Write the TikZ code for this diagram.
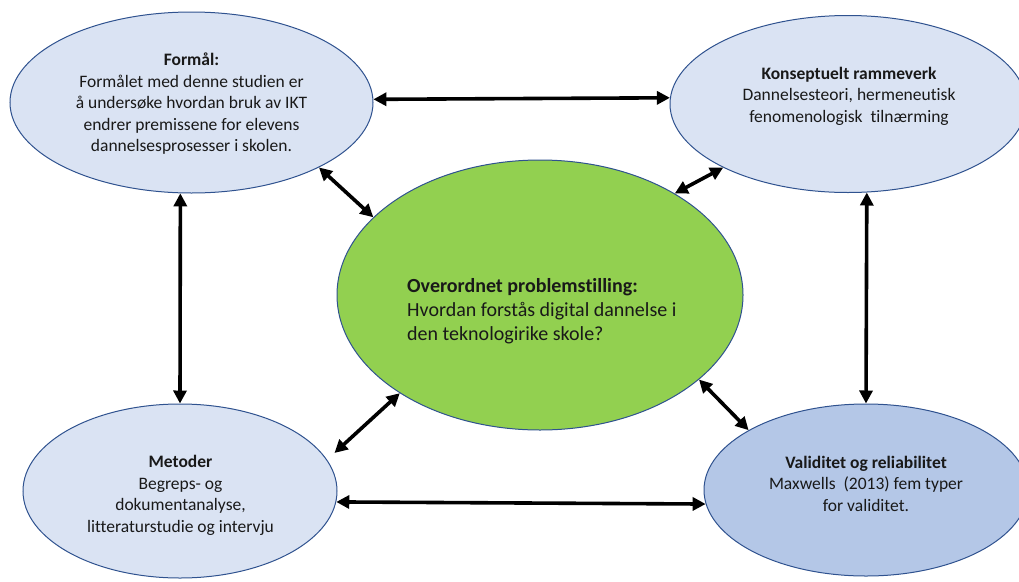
\documentclass[tikz,border=0pt]{standalone}
\usepackage{fontspec}
\setmainfont{Carlito}[Ligatures=NoCommon]
\usetikzlibrary{shapes.geometric,arrows.meta}
\definecolor{lb}{HTML}{DAE3F3}
\definecolor{mb}{HTML}{B4C7E7}
\definecolor{gr}{HTML}{92D050}
\definecolor{bd}{HTML}{2F528F}
\begin{document}
\begin{tikzpicture}[x=1pt,y=-1pt,
  ell/.style={ellipse, draw=bd, line width=1pt, inner sep=0pt},
  txt/.style={font=\fontsize{17.5}{21.5}\selectfont, align=center, inner sep=0pt, anchor=base, text=black!90},
  mtxt/.style={font=\fontsize{20}{24}\selectfont, align=left, inner sep=0pt, anchor=base west, text=black!90},
  arr/.style={{Triangle[length=13pt,width=13pt]}-{Triangle[length=13pt,width=13pt]}, line width=3.6pt, black}
]
\useasboundingbox (0,0) rectangle (1019,581);
\clip (0,0) rectangle (1019,581);
% ellipses
\node[ell, fill=lb, minimum width=363pt, minimum height=181pt] (tl) at (191.5,102.5) {};
\node[ell, fill=lb, minimum width=356pt, minimum height=177pt] (tr) at (848,104) {};
\node[ell, fill=gr, minimum width=406pt, minimum height=270pt] (mid) at (540,295) {};
\node[ell, fill=lb, minimum width=314pt, minimum height=174pt] (bl) at (180,491) {};
\node[ell, fill=mb, minimum width=324pt, minimum height=172pt] (br) at (866,490) {};
% texts (anchor = baseline of the last line)
\node[txt] (tltxt) at (191.5,151.7) {\textbf{Formål:}\\Formålet med denne studien er\\å undersøke hvordan bruk av IKT\\endrer premissene for elevens\\dannelsesprosesser i skolen.};
\node[txt] (trtxt) at (849,122) {\textbf{Konseptuelt rammeverk}\\Dannelsesteori, hermeneutisk\\fenomenologisk\ \ tilnærming};
\node[mtxt] (midtxt) at (407,340.7) {\textbf{Overordnet problemstilling:}\\Hvordan forstås digital dannelse i\\den teknologirike skole?};
\node[txt] (bltxt) at (180.5,532) {\textbf{Metoder}\\Begreps- og\\dokumentanalyse,\\litteraturstudie og intervju};
\node[txt] (brtxt) at (866,511) {\textbf{Validitet og reliabilitet}\\Maxwells\ \ (2013) fem typer\\for validitet.};
% arrows
\draw[arr] (tl.1.4) -- (tr.178.1);
\draw[arr] (tl.-97.3) -- (bl.90);
\draw[arr] (tr.-78.45) -- (br.90);
\draw[arr] (bl.-4.8) -- (br.-175);
\draw[arr] (tl.-27.2) -- (mid.155.4);
\draw[arr] (tr.-153.4) -- (mid.37.9);
\draw[arr, shorten >=10pt] (mid.-145.4) -- (bl.12.2);
\draw[arr] (mid.-28.7) -- (br.153.4);
\end{tikzpicture}
\end{document}
